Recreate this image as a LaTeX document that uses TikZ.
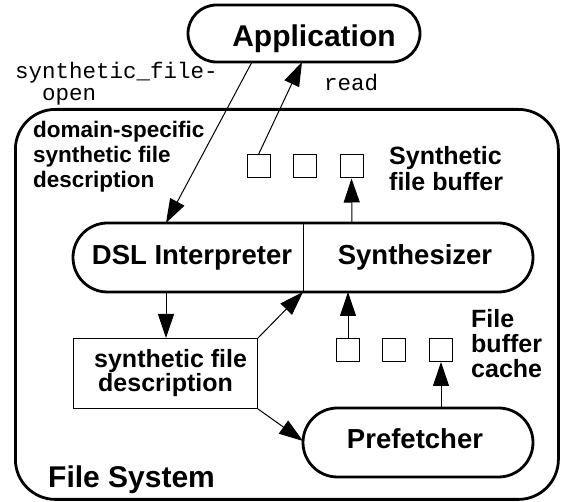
\documentclass[tikz,border=0pt]{standalone}
\usepackage{fontspec}
\setmainfont{Liberation Sans}
\setmonofont{Liberation Mono}
\usetikzlibrary{arrows.meta,shapes.misc}
\begin{document}
\begin{tikzpicture}[x=1pt,y=-1pt,
  big/.style={font=\fontsize{27.5}{30}\selectfont\bfseries},
  huge/.style={font=\fontsize{30}{32}\selectfont\bfseries},
  mid/.style={font=\fontsize{25}{25}\selectfont\bfseries},
  small/.style={font=\fontsize{22.5}{25}\selectfont\bfseries},
  mono/.style={font=\fontsize{22.5}{22}\selectfont\ttfamily},
  stadium/.style={draw, rounded rectangle, line width=2.8pt, inner sep=0pt},
  sq/.style={draw, line width=1pt, minimum size=23, inner sep=0pt},
  arr/.style={line width=1pt, -{Triangle[length=24pt,width=16pt]}},
  lbl/.style={inner sep=0pt, anchor=base west, align=left}
]
\useasboundingbox (0,0) rectangle (566,502);
% outer file system box
\node[draw, line width=2.8pt, rounded corners=40pt, minimum width=543, minimum height=390, inner sep=0pt, anchor=north west] (fs) at (14,108) {};
\node[huge, inner sep=0pt, anchor=base west] (fslbl) at (48,488) {File System};
% application
\node[stadium, minimum width=232, minimum height=57] (app) at (304,33.5) {};
\node[huge, inner sep=0pt, anchor=base] (applbl) at (314,47) {Application};
% labels
\node[mono, lbl] (sfo1) at (15,79) {synthetic\_file-};
\node[mono, lbl] (sfo2) at (42,101) {open};
\node[mono, lbl] (rd) at (324,91) {read};
\node[small, lbl] (dsd1) at (33,138) {domain-specific};
\node[small, lbl] (dsd2) at (33,163) {synthetic file};
\node[small, lbl] (dsd3) at (33,188) {description};
\node[mid, lbl] (sfb1) at (389,165) {Synthetic};
\node[mid, lbl] (sfb2) at (389,191) {file buffer};
\node[mid, lbl] (fbc1) at (471,328) {File};
\node[mid, lbl] (fbc2) at (471,353) {buffer};
\node[mid, lbl] (fbc3) at (471,378) {cache};
% upper squares
\node[sq] (u1) at (258.5,166.5) {};
\node[sq] (u2) at (305,166.5) {};
\node[sq] (u3) at (351.5,166.5) {};
% lower squares
\node[sq] (l1) at (348,350) {};
\node[sq] (l2) at (394,350) {};
\node[sq] (l3) at (441,350) {};
% core box
\node[stadium, minimum width=460, minimum height=69] (core) at (303,257.5) {};
\draw[line width=1pt] (core.north) -- (core.south);
\node[big, inner sep=0pt, anchor=base] (dsl) at (192,265) {DSL Interpreter};
\node[big, inner sep=0pt, anchor=base] (syn) at (415,265) {Synthesizer};
% synthetic file description box
\node[draw, line width=1pt, minimum width=184, minimum height=70, inner sep=0pt, anchor=north west] (desc) at (73,338) {};
\node[mid, lbl] (desc1) at (94,368) {synthetic file};
\node[mid, lbl] (desc2) at (98,392) {description};
% prefetcher
\node[stadium, minimum width=230, minimum height=69] (pre) at (418,442.5) {};
\node[big, inner sep=0pt, anchor=base] (prelbl) at (415,449) {Prefetcher};
% connector end points on borders
\coordinate (appA) at (252,62);
\coordinate (appB) at (302,62);
\coordinate (coreTopL) at (166,223);
\coordinate (coreTopR) at (352,223);
\coordinate (coreBotL) at (166,292);
\coordinate (coreBotM) at (303,292);
\coordinate (coreBotR) at (348,292);
\coordinate (preTop) at (441,408);
\coordinate (preLeft) at (303,441);
% arrows
\draw[arr] (appA) -- (coreTopL);
\draw[arr] (u1.north) -- (appB);
\draw[arr] (coreTopR) -- (u3.south);
\draw[arr] (coreBotL) -- (desc.north west -| coreBotL);
\draw[arr] (desc.north east) -- (coreBotM);
\draw[arr] (desc.south east) -- (preLeft);
\draw[arr] (l1.north) -- (coreBotR);
\draw[arr] (preTop) -- (l3.south);
\end{tikzpicture}
\end{document}
